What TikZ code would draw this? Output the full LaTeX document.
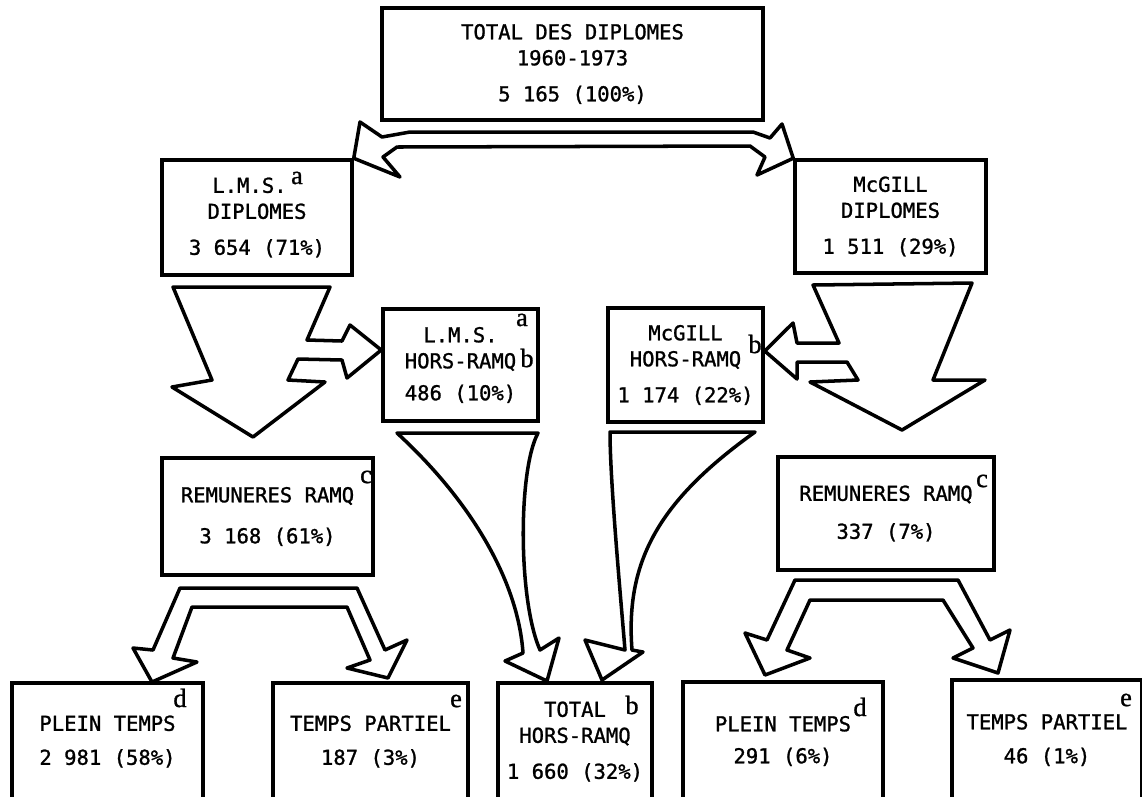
\documentclass[tikz,border=0pt]{standalone}
\usepackage{fontspec}
\setmonofont{DejaVu Sans Mono}[FakeBold=1.2]
\newfontfamily\supfont{Liberation Serif}[FakeBold=1]
\newcommand{\boxfont}{\fontsize{11.7}{14.8}\selectfont\ttfamily}

\begin{document}
\begin{tikzpicture}[x=0.02cm,y=-0.02cm,
	box/.style={draw,line width=2pt,align=center,inner sep=0pt,font=\boxfont},
	sup/.style={inner sep=0pt,font=\supfont\fontsize{15}{15}\selectfont},
	fleche/.style={draw,line width=2pt,line join=round,fill=white}]
	\useasboundingbox (0,0) rectangle (1142,796);
	\clip (0,0) rectangle (1142,796);
	% boxes
	\node[box,minimum width=7.62cm,minimum height=2.24cm] (total) at (572.5,64) {TOTAL DES DIPLOMES\\1960-1973\\[0.2cm]5 165 (100\%)};
	\node[box,minimum width=3.8cm,minimum height=2.3cm] (lmsdip) at (257,217.5) {L.M.S.\hspace*{0.3cm}\\DIPLOMES\\[0.2cm]3 654 (71\%)};
	\node[box,minimum width=3.82cm,minimum height=2.26cm] (mcgdip) at (890.5,216.5) {McGILL\\DIPLOMES\\[0.2cm]1 511 (29\%)};
	\node[box,minimum width=3.1cm,minimum height=2.24cm] (lmshors) at (460.5,365) {L.M.S.\\HORS-RAMQ\\[0.12cm]486 (10\%)};
	\node[box,minimum width=3.1cm,minimum height=2.28cm] (mcghors) at (685.5,365) {McGILL\\HORS-RAMQ\\[0.2cm]1 174 (22\%)};
	\node[box,minimum width=4.22cm,minimum height=2.34cm] (reml) at (267.5,516.5) {REMUNERES RAMQ\\[0.3cm]3 168 (61\%)};
	\node[box,minimum width=4.32cm,minimum height=2.26cm] (remr) at (886,513.5) {REMUNERES RAMQ\\[0.24cm]337 (7\%)};
	\node[box,minimum width=3.82cm,minimum height=2.34cm] (ptl) at (107.5,741.5) {PLEIN TEMPS\\[0.16cm]2 981 (58\%)};
	\node[box,minimum width=3.9cm,minimum height=2.34cm] (tpl) at (370.5,741.5) {TEMPS PARTIEL\\[0.16cm]187 (3\%)};
	\node[box,minimum width=3.08cm,minimum height=2.34cm] (toth) at (575,741.5) {TOTAL\\HORS-RAMQ\\[0.2cm]1 660 (32\%)};
	\node[box,minimum width=4cm,minimum height=2.36cm] (ptr) at (783,741) {PLEIN TEMPS\\[0.12cm]291 (6\%)};
	\node[box,minimum width=3.8cm,minimum height=2.4cm] (tpr) at (1047,740) {TEMPS PARTIEL\\[0.16cm]46 (1\%)};
	% notes
	\node[sup] (sa1) at (297,178) {a};
	\node[sup] (sa2) at (522,320) {a};
	\node[sup] (sb1) at (527,358) {b};
	\node[sup] (sb2) at (755,344) {b};
	\node[sup] (sc1) at (366,477) {c};
	\node[sup] (sc2) at (982,481) {c};
	\node[sup] (sd1) at (180,698) {d};
	\node[sup] (se1) at (456,701) {e};
	\node[sup] (sb3) at (632,705) {b};
	\node[sup] (sd2) at (860,707) {d};
	\node[sup] (se2) at (1126,700) {e};
	% split from total
	\draw[fleche] (lmsdip.north east) -- (360,122) -- (382,137) -- (410,132) -- (753,132) -- (770,138) -- (782,124)
		-- (mcgdip.north west) -- (757,175) -- (765,157) -- (750,146) -- (397,147) -- (383,157) -- (400,177) -- cycle;
	% lms down + branch
	\draw[fleche] (173,287) -- (330,287) -- (307,340) -- (342,341) -- (350,325) -- ([yshift=0.3cm]lmshors.west)
		-- (347,378) -- (342,360) -- (298,359) -- (288,380) -- (325,382) -- (253,437) -- (172,387) -- (212,380) -- cycle;
	% mcgill down + branch
	\draw[fleche] (813,285) -- (972,283) -- (933,380) -- (985,380) -- (902,430) -- (810,382) -- (858,380) -- (847,362)
		-- (797,362) -- (797,379) -- ([yshift=0.28cm]mcghors.east) -- (793,323) -- (797,343) -- (839,343) -- cycle;
	% hors-ramq to total
	\draw[fleche] (397,433) -- (538,433) .. controls (518,470) and (518,600) .. (540,650) -- (559,638) -- (547,681)
		-- (505,661) -- (523,653) .. controls (518,580) and (470,500) .. (397,433) -- cycle;
	\draw[fleche] (610,432) -- (755,432) .. controls (660,500) and (625,560) .. (632,650) -- (643,652) -- (602,680)
		-- (585,640) -- (625,650) .. controls (620,590) and (610,480) .. (610,432) -- cycle;
	% splits under remuneres
	\draw[fleche] (180,588) -- (357,588) -- (385,650) -- (407,640) -- (388,678) -- (347,668) -- (370,660) -- (347,607)
		-- (192,607) -- (173,658) -- (197,662) -- (152,682) -- (133,648) -- (153,650) -- cycle;
	\draw[fleche] (795,580) -- (958,580) -- (990,640) -- (1010,630) -- (998,673) -- (953,658) -- (973,648) -- (943,600)
		-- (810,600) -- (787,650) -- (810,658) -- (765,675) -- (745,633) -- (767,640) -- cycle;
\end{tikzpicture}
\end{document}
